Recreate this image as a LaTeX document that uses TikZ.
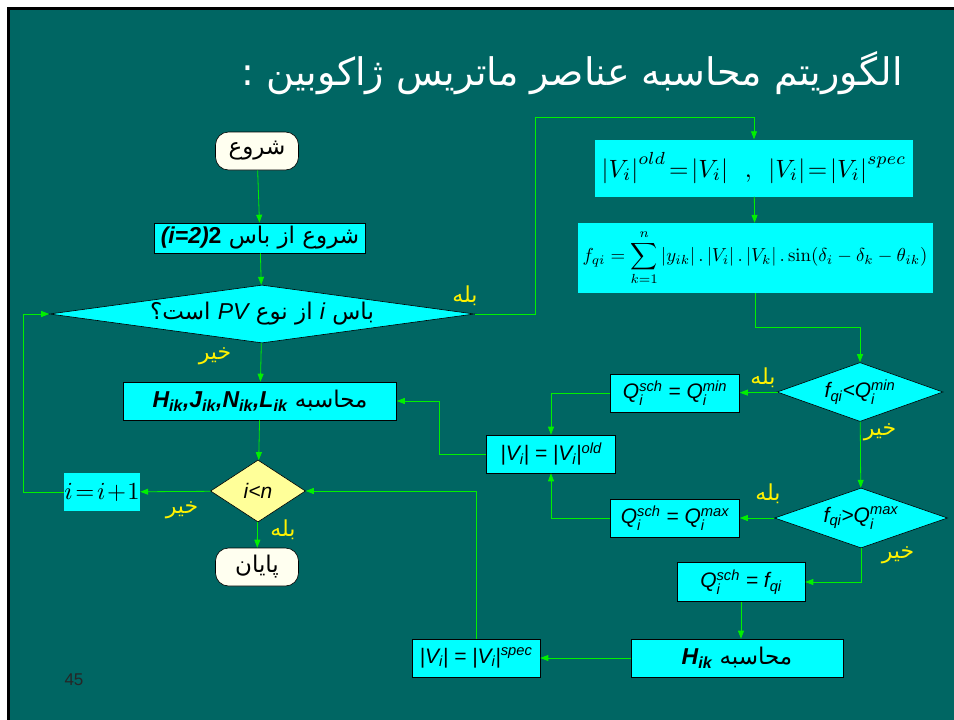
\documentclass[tikz,border=0pt]{standalone}
\usepackage[no-math]{fontspec}
\usepackage{amsmath}
\usepackage{graphicx}
\usetikzlibrary{shapes.geometric,arrows.meta}
\TeXXeTstate=1
\newfontfamily\farsi[Script=Arabic]{DejaVu Sans}
\newfontfamily\arialfont{Liberation Sans}
\definecolor{slide}{RGB}{0,102,99}
\definecolor{aqua}{RGB}{0,255,255}
\definecolor{ivory}{RGB}{255,255,240}
\definecolor{paleyellow}{RGB}{255,255,153}
\definecolor{wire}{RGB}{0,240,0}

\begin{document}
\begin{tikzpicture}[x=1pt,y=-1pt,
  box/.style={rectangle,draw=black,fill=aqua,line width=0.6pt,inner sep=0pt},
  flat box/.style={rectangle,fill=aqua,inner sep=0pt},
  term/.style={rectangle,rounded corners=13pt,draw=black,fill=ivory,line width=0.6pt,
    inner sep=0pt,minimum width=83,minimum height=38},
  test/.style={diamond,draw=black,fill=aqua,line width=0.6pt,inner sep=0pt},
  fa/.style={font=\farsi\fontsize{23}{27}\selectfont},
  en/.style={font=\arialfont\fontsize{21}{25}\selectfont\itshape},
  yes no/.style={text=yellow,font=\farsi\fontsize{22}{26}\selectfont},
  conn/.style={wire,line width=0.8pt,-{Triangle[length=8pt,width=6pt]}}]

  \useasboundingbox (0,0) rectangle (954,720);
  \fill[white] (0,0) rectangle (954,720);
  \fill[black] (7,7) rectangle (954,720);
  \fill[slide] (10,10) rectangle (954,720);

  \node[text=white,font=\farsi\fontsize{38}{45}\selectfont,anchor=east] (t) at (906,73)
    {\beginR الگوریتم محاسبه عناصر ماتریس ژاکوبین :\endR};
  \node[font=\arialfont\fontsize{17}{20}\selectfont,text=black!85] (p) at (74,680) {45};

  % left column
  \node[term,fa] (1) at (257,151) {\beginR شروع\endR};
  \node[box,fa,minimum width=211,minimum height=30] (2) at (260,238)
    {\beginR شروع از باس \beginL{\arialfont\bfseries\itshape(i=2)}{\arialfont\bfseries 2}\endL{}\endR};
  \node[test,fa,shape aspect=7.3,minimum width=425,minimum height=58] (3) at (262,314)
    {\beginR باس \beginL{\arialfont\itshape i}\endL{} از نوع \beginL{\arialfont\itshape PV}\endL{} است؟\endR};
  \node[box,fa,minimum width=273,minimum height=38] (4) at (260,401)
    {\beginR محاسبه \beginL{\arialfont\bfseries\itshape H$_{\text{ik}}$,J$_{\text{ik}}$,N$_{\text{ik}}$,L$_{\text{ik}}$}\endL{}\endR};
  \node[test,en,fill=paleyellow,shape aspect=1.5,minimum width=95,minimum height=62] (5) at (258,491) {i<n};
  \node[flat box,minimum width=76,minimum height=38] (6) at (102,492)
    {\scalebox{2.45}{$i\!=\!i\!+\!1$}};
  \node[term,fa] (7) at (257,567) {\beginR پایان\endR};

  % right column
  \node[flat box,minimum width=318,minimum height=57] (8) at (754,168)
    {\scalebox{2.5}{$\left|V_i\right|^{old}\!=\!\left|V_i\right|\enspace,\enspace\left|V_i\right|\!=\!\left|V_i\right|^{spec}$}};
  \node[flat box,minimum width=355,minimum height=70] (9) at (755,258)
    {\scalebox{1.88}{$\displaystyle f_{qi}=\sum_{k=1}^{n}\left|y_{ik}\right|.\left|V_i\right|.\left|V_k\right|.\sin(\delta_i-\delta_k-\theta_{ik})$}};
  \node[test,en,shape aspect=2.8,minimum width=166,minimum height=59] (10) at (860,392)
    {f$_{\text{qi}}$<Q$_{\text{i}}^{\text{min}}$};
  \node[box,en,minimum width=129,minimum height=38] (11) at (675,393)
    {Q$_{\text{i}}^{\text{sch}}$ = Q$_{\text{i}}^{\text{min}}$};
  \node[box,en,minimum width=129,minimum height=38] (12) at (551,454)
    {|V$_{\text{i}}$| = |V$_{\text{i}}$|$^{\text{old}}$};
  \node[test,en,shape aspect=2.9,minimum width=173,minimum height=60] (13) at (861,518)
    {f$_{\text{qi}}$>Q$_{\text{i}}^{\text{max}}$};
  \node[box,en,minimum width=129,minimum height=38] (14) at (675,518)
    {Q$_{\text{i}}^{\text{sch}}$ = Q$_{\text{i}}^{\text{max}}$};
  \node[box,en,minimum width=128,minimum height=39] (15) at (741,582)
    {Q$_{\text{i}}^{\text{sch}}$ = f$_{\text{qi}}$};
  \node[box,fa,minimum width=212,minimum height=38] (16) at (737,658)
    {\beginR محاسبه \beginL{\arialfont\bfseries\itshape H$_{\text{ik}}$}\endL{}\endR};
  \node[box,en,minimum width=128,minimum height=38] (17) at (476,658)
    {|V$_{\text{i}}$| = |V$_{\text{i}}$|$^{\text{spec}}$};

  % yes / no labels
  \node[yes no] (l1) at (465,296) {\beginR بله\endR};
  \node[yes no] (l2) at (215,356) {\beginR خیر\endR};
  \node[yes no] (l3) at (763,378) {\beginR بله\endR};
  \node[yes no] (l4) at (880,432) {\beginR خیر\endR};
  \node[yes no] (l5) at (768,494) {\beginR بله\endR};
  \node[yes no] (l6) at (898,555) {\beginR خیر\endR};
  \node[yes no] (l7) at (182,510) {\beginR خیر\endR};
  \node[yes no] (l8) at (283,530) {\beginR بله\endR};

  \path[conn]
   (1) edge (2)
   (2) edge (3)
   (3) edge (4)
   (4) edge (5)
   (5) edge (6)
   (5) edge (7)
   (8) edge (9)
   (10) edge (11)
   (10) edge (13)
   (13) edge (14)
   (16) edge (17);

  \draw[conn] (3.east) -| (535,117) -| (8.north);
  \draw[conn] (9.south) -- ++(0,34) -| (10.north);
  \draw[conn] (11.west) -| (12.north);
  \draw[conn] (14.west) -| (12.south);
  \draw[conn] (12.west) -- ++(-47,0) |- (4.east);
  \draw[conn] (13.south) |- (15.east);
  \draw[conn] (15.south) -- (15.south |- 16.north);
  \draw[conn] (17.north) |- (5.east);
  \draw[conn] (6.west) -- ++(-40,0) |- (3.west);
\end{tikzpicture}
\end{document}
